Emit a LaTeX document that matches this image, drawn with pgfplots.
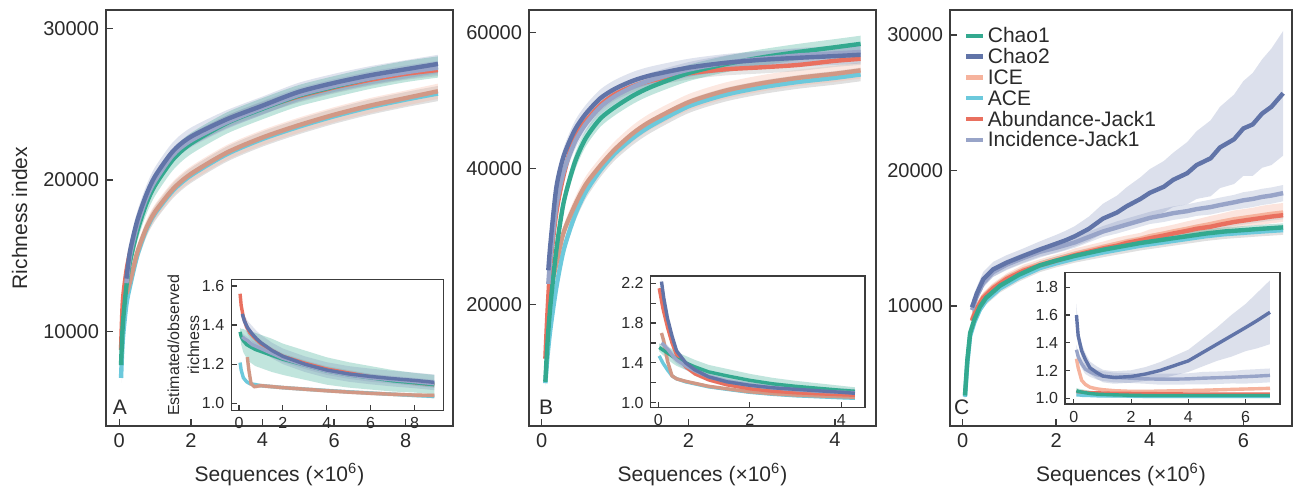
\documentclass[border=0pt]{standalone}
\usepackage{fontspec}
\setmainfont{Liberation Sans}
\usepackage{pgfplots}
\usepackage{pgfplotstable}
\pgfplotsset{compat=1.18}
\usepgfplotslibrary{fillbetween}

\definecolor{cA}{HTML}{33A98F}% Chao1
\definecolor{cB}{HTML}{6174A8}% Chao2
\definecolor{cC}{HTML}{F6B39D}% ICE
\definecolor{cD}{HTML}{6CC9DC}% ACE
\definecolor{cE}{HTML}{E9705F}% Abundance-Jack1
\definecolor{cF}{HTML}{98A4C8}% Incidence-Jack1
\definecolor{axc}{HTML}{3C3C3C}
\definecolor{txt}{HTML}{2A2A2A}

% band: table, column, half-width column, fill style, path name
\newcommand{\band}[5]{%
  \addplot[draw=none, forget plot, name path=#5u] table[x=x, y expr=\thisrow{#2}+\thisrow{#3}] {#1};
  \addplot[draw=none, forget plot, name path=#5l] table[x=x, y expr=\thisrow{#2}-\thisrow{#3}] {#1};
  \addplot[#4, draw=none, forget plot] fill between[of=#5u and #5l];}
\newcommand{\crv}[4]{\addplot[#3, line width=#4, forget plot] table[x=x, y=#2] {#1};}

\pgfplotsset{
  panel/.style={scale only axis, width=173.5pt, height=208pt,
    axis line style={draw=axc, line width=0.75pt}, tick style={draw=axc, line width=0.75pt},
    tick align=inside, major tick length=3.4pt, xtick pos=lower, ytick pos=left,
    tick label style={font=\fontsize{10}{12}\selectfont, text=txt},
    /pgf/number format/assume math mode=true, /pgf/number format/1000 sep={}, scaled ticks=false,
    xlabel={Sequences (×10\textsuperscript{6})},
    every axis x label/.style={at={(axis description cs:0.5,0)}, anchor=center, yshift=-24.5pt,
      font=\fontsize{10.5}{12}\selectfont, text=txt}},
  inset/.style={scale only axis, axis background/.style={fill=white},
    axis line style={draw=axc, line width=0.6pt}, tick style={draw=axc, line width=0.6pt},
    tick align=inside, major tick length=2.6pt, minor tick length=2.6pt, xtick pos=lower, ytick pos=left,
    tick label style={font=\fontsize{8}{9}\selectfont, text=txt},
    /pgf/number format/assume math mode=true,
    yticklabel style={/pgf/number format/.cd, fixed, fixed zerofill, precision=1}},
  rounded/.style={every axis plot/.append style={smooth, tension=0.45}},
}

% ---------- panel A ----------
\pgfplotstableread{
x c1 c1e ace acee aj aje
0.05 7800 300 6950 300 8800 300
0.1 10500 400 9500 400 12000 400
0.2 13000 500 11800 450 14000 400
0.3 14600 600 13000 500 15200 400
0.5 16600 650 15000 500 17100 400
0.75 18400 700 16700 500 18800 400
1 19650 700 17800 500 20000 400
1.5 21350 700 19300 500 21650 400
2 22400 700 20300 500 22600 400
3 23750 700 21700 500 23850 400
4 24700 700 22700 500 24750 400
5 25550 700 23500 500 25500 400
6 26150 700 24200 500 26100 400
7 26700 700 24800 500 26600 400
8 27150 700 25300 500 27000 400
8.9 27450 700 25700 500 27250 400
}\tAe
\pgfplotstableread{
x c2 c2e ij ije ice icee
0.2 13500 500 13200 400 12500 400
0.3 15300 550 15000 450 13300 450
0.5 17300 600 17000 450 15200 500
0.75 19000 600 18750 450 16800 500
1 20250 600 19950 450 17900 500
1.5 21900 600 21650 450 19400 500
2 22850 600 22600 450 20400 500
3 24000 600 23800 450 21800 500
4 24900 600 24750 450 22800 500
5 25800 600 25600 450 23600 500
6 26400 600 26200 450 24300 500
7 26900 600 26700 450 24900 500
8 27300 600 27100 450 25400 500
8.9 27650 600 27400 450 25850 500
}\tAl
\pgfplotstableread{
x c1 c1e ace acee aj aje
0.05 1.365 0.02 1.208 0.01 1.56 0.015
0.1 1.34 0.04 1.17 0.01 1.50 0.015
0.2 1.32 0.06 1.13 0.01 1.44 0.015
0.35 1.30 0.07 1.11 0.01 1.39 0.015
0.5 1.29 0.08 1.10 0.01 1.36 0.015
0.75 1.275 0.085 1.095 0.01 1.33 0.015
1 1.265 0.085 1.09 0.01 1.305 0.015
1.5 1.245 0.085 1.085 0.01 1.27 0.015
2 1.225 0.08 1.08 0.01 1.24 0.015
3 1.195 0.075 1.072 0.01 1.205 0.015
4 1.165 0.07 1.065 0.01 1.175 0.015
5 1.145 0.065 1.058 0.01 1.155 0.015
6 1.13 0.06 1.052 0.01 1.135 0.015
7 1.115 0.055 1.046 0.01 1.12 0.015
8 1.105 0.05 1.04 0.01 1.105 0.015
8.9 1.095 0.05 1.035 0.01 1.095 0.015
}\tAie
\pgfplotstableread{
x c2 c2e ij ije
0.15 1.457 0.03 1.34 0.02
0.25 1.42 0.03 1.33 0.02
0.4 1.385 0.035 1.32 0.02
0.6 1.355 0.04 1.30 0.02
0.8 1.33 0.04 1.29 0.02
1 1.31 0.04 1.28 0.02
1.5 1.27 0.04 1.255 0.02
2 1.24 0.04 1.23 0.02
3 1.20 0.04 1.195 0.02
4 1.17 0.04 1.165 0.02
5 1.15 0.04 1.145 0.02
6 1.137 0.04 1.13 0.02
7 1.126 0.04 1.12 0.02
8 1.117 0.04 1.11 0.02
8.9 1.107 0.04 1.10 0.02
}\tAil
\pgfplotstableread{
x ice icee
0.38 1.236 0.01
0.45 1.17 0.01
0.55 1.10 0.01
0.7 1.085 0.01
1 1.09 0.01
1.5 1.085 0.01
2 1.08 0.01
3 1.072 0.01
4 1.064 0.01
5 1.057 0.01
6 1.051 0.01
7 1.046 0.01
8 1.042 0.01
8.9 1.04 0.01
}\tAii

% ---------- panel B ----------
\pgfplotstableread{
x c1 c1e ace acee aj aje
0.05 8600 400 8400 400 12000 400
0.08 14500 600 12500 500 19000 600
0.12 20000 800 16500 600 26000 700
0.2 28000 1000 22500 800 33500 800
0.3 35000 1100 28000 900 39000 900
0.45 40800 1200 33000 1000 44800 900
0.6 44400 1200 36500 1000 46900 900
0.8 47300 1200 39700 1000 49300 900
1 49000 1200 42200 1000 50900 900
1.25 50700 1200 44500 1000 52100 900
1.5 52000 1200 46300 1000 52900 900
2 54000 1200 49100 1000 53950 900
2.5 55300 1200 50800 1000 54550 900
3 56300 1200 51900 1000 54850 900
3.5 57100 1200 52700 1000 55200 900
4 57800 1200 53300 1000 55800 900
4.35 58300 1200 53800 1000 56100 900
}\tBe
\pgfplotstableread{
x c2 c2e ij ije ice icee
0.09 25000 800 23000 800 20000 600
0.12 29000 900 27000 900 22000 700
0.2 37200 1100 34500 1000 26000 900
0.3 41800 1200 39500 1100 30600 1000
0.45 45600 1300 43800 1100 34500 1100
0.6 48000 1300 46500 1100 37600 1200
0.8 50300 1300 49000 1100 40400 1200
1 51700 1300 50600 1100 42800 1200
1.25 52900 1300 52000 1100 45200 1200
1.5 53700 1300 53000 1100 47000 1200
2 54800 1300 54500 1100 49700 1200
2.5 55500 1300 55500 1100 51400 1200
3 55950 1300 56100 1100 52500 1200
3.5 56250 1300 56600 1100 53300 1200
4 56500 1300 56900 1100 53900 1200
4.35 56700 1300 57100 1100 54400 1200
}\tBl
\pgfplotstableread{
x c1 c1e ace acee aj aje
0.02 1.555 0.04 1.47 0.015 2.15 0.02
0.1 1.53 0.05 1.40 0.015 1.95 0.02
0.2 1.50 0.06 1.33 0.015 1.76 0.02
0.3 1.47 0.07 1.27 0.015 1.60 0.02
0.4 1.44 0.07 1.24 0.015 1.48 0.02
0.6 1.40 0.07 1.21 0.015 1.36 0.02
0.8 1.36 0.07 1.19 0.015 1.29 0.02
1.1 1.31 0.07 1.16 0.015 1.23 0.02
1.5 1.27 0.07 1.135 0.015 1.18 0.02
2 1.225 0.065 1.105 0.015 1.14 0.02
2.5 1.19 0.06 1.085 0.015 1.115 0.02
3 1.165 0.055 1.07 0.015 1.10 0.02
3.5 1.145 0.05 1.06 0.015 1.09 0.02
4 1.125 0.045 1.05 0.015 1.08 0.02
4.3 1.115 0.04 1.045 0.015 1.075 0.02
}\tBie
\pgfplotstableread{
x c2 c2e ij ije ice icee
0.07 2.217 0.03 1.60 0.04 1.70 0.015
0.12 2.05 0.03 1.58 0.04 1.62 0.015
0.2 1.85 0.03 1.54 0.04 1.42 0.015
0.3 1.67 0.03 1.48 0.04 1.27 0.015
0.4 1.52 0.03 1.43 0.04 1.24 0.015
0.6 1.40 0.03 1.37 0.04 1.215 0.015
0.8 1.33 0.03 1.32 0.04 1.195 0.015
1.1 1.26 0.03 1.26 0.04 1.165 0.015
1.5 1.21 0.03 1.215 0.04 1.14 0.015
2 1.175 0.03 1.175 0.04 1.11 0.015
2.5 1.15 0.03 1.15 0.04 1.09 0.015
3 1.135 0.03 1.13 0.04 1.077 0.015
3.5 1.12 0.03 1.115 0.04 1.068 0.015
4 1.105 0.03 1.105 0.04 1.06 0.015
4.3 1.095 0.03 1.10 0.04 1.055 0.015
}\tBil

% ---------- panel C ----------
\pgfplotstableread{
x c1 c1e ace acee
0.05 3400 200 3300 200
0.1 6000 250 5800 250
0.16 8000 300 7800 300
0.25 9000 300 8800 300
0.37 9950 300 9750 300
0.5 10600 300 10400 300
0.8 11500 300 11300 300
1.2 12300 300 12100 300
1.65 13000 300 12800 300
2 13350 300 13150 300
2.4 13700 300 13500 300
3 14150 300 13950 350
3.4 14400 300 14200 350
3.8 14650 300 14450 350
4.2 14850 300 14650 350
4.5 15000 300 14800 350
5 15250 300 15050 350
5.2 15350 300 15150 350
5.6 15500 300 15300 350
6 15600 300 15400 350
6.4 15700 300 15500 350
6.85 15800 300 15600 350
}\tCe
\pgfplotstableread{
x c2 c2e ij ije ice icee aj aje
0.2 9900 500 9700 350 9000 300 8900 300
0.3 10900 500 10700 350 9900 300 9800 300
0.44 11970 550 11700 350 10700 300 10600 300
0.65 12700 550 12500 350 11400 300 11300 300
0.94 13200 550 13050 350 12100 300 12000 300
1.3 13700 550 13550 350 12700 350 12600 300
1.65 14170 600 14000 350 13100 350 13000 300
2 14600 650 14300 400 13450 350 13350 300
2.2 14850 700 14500 400 13650 350 13550 300
2.4 15150 750 14700 400 13850 400 13750 300
2.7 15700 900 15100 400 14100 400 14000 300
3 16450 1100 15500 400 14350 400 14250 300
3.3 16900 1250 15800 450 14600 450 14450 300
3.5 17350 1400 16000 450 14750 450 14650 300
3.8 17900 1600 16300 450 14950 450 14850 300
4 18350 1750 16500 450 15150 500 15000 300
4.3 18800 1900 16700 500 15350 500 15200 300
4.5 19310 2000 16850 500 15500 500 15350 300
4.8 19800 2300 17000 500 15700 550 15550 300
5 20400 2500 17150 500 15850 550 15700 300
5.3 20900 2800 17300 550 16050 600 15850 300
5.5 21700 3000 17450 550 16200 600 16000 300
5.8 22300 3300 17650 550 16400 650 16200 300
6 23100 3500 17800 600 16500 650 16300 300
6.2 23400 3800 17900 600 16600 650 16400 300
6.4 24200 4000 18050 600 16700 700 16500 300
6.6 24700 4300 18150 600 16800 700 16600 300
6.85 25700 4600 18330 600 16900 700 16700 300
}\tCl
\pgfplotstableread{
x c2 c2e ij ije ice icee aj aje c1 c1e ace acee
0.09 1.60 0.08 1.35 0.035 1.285 0.01 1.05 0.008 1.055 0.02 1.025 0.008
0.15 1.45 0.06 1.30 0.035 1.22 0.01 1.048 0.008 1.05 0.02 1.025 0.008
0.27 1.343 0.05 1.25 0.035 1.13 0.01 1.045 0.008 1.045 0.02 1.022 0.008
0.4 1.28 0.045 1.21 0.035 1.10 0.01 1.043 0.008 1.04 0.02 1.02 0.008
0.56 1.22 0.045 1.19 0.035 1.08 0.01 1.04 0.008 1.035 0.02 1.02 0.008
0.8 1.185 0.045 1.17 0.035 1.068 0.01 1.04 0.008 1.03 0.02 1.018 0.008
1.02 1.16 0.045 1.16 0.035 1.062 0.01 1.038 0.008 1.028 0.02 1.018 0.008
1.4 1.15 0.045 1.15 0.035 1.055 0.01 1.036 0.008 1.025 0.02 1.017 0.008
2 1.157 0.045 1.145 0.035 1.05 0.01 1.035 0.008 1.022 0.02 1.016 0.008
2.5 1.175 0.05 1.14 0.035 1.05 0.01 1.034 0.008 1.02 0.02 1.016 0.008
3 1.20 0.06 1.138 0.04 1.052 0.01 1.033 0.008 1.02 0.02 1.015 0.008
3.5 1.235 0.07 1.138 0.04 1.054 0.01 1.032 0.008 1.02 0.02 1.015 0.008
4 1.27 0.08 1.14 0.04 1.056 0.01 1.031 0.008 1.02 0.02 1.015 0.008
4.5 1.33 0.10 1.145 0.045 1.058 0.01 1.03 0.008 1.02 0.02 1.015 0.008
5 1.39 0.12 1.148 0.045 1.061 0.01 1.03 0.008 1.02 0.02 1.015 0.008
5.5 1.45 0.15 1.152 0.045 1.064 0.01 1.03 0.008 1.02 0.02 1.015 0.008
6 1.51 0.17 1.156 0.05 1.067 0.01 1.03 0.008 1.02 0.02 1.015 0.008
6.4 1.56 0.20 1.16 0.05 1.069 0.01 1.03 0.008 1.02 0.02 1.015 0.008
6.85 1.62 0.23 1.165 0.05 1.072 0.01 1.03 0.008 1.02 0.02 1.015 0.008
}\tCi

\begin{document}
\begin{tikzpicture}

% ===== A =====
\begin{axis}[panel, rounded, at={(53pt,-213pt)}, anchor=south west,
  xmin=-0.37, xmax=9.32, ymin=3784, ymax=31206,
  xtick={0,2,4,6,8}, ytick={10000,20000,30000},
  ylabel={Richness index},
  every axis y label/.style={at={(axis description cs:-0.249,0.5)}, rotate=90, anchor=center,
    font=\fontsize{10.5}{12}\selectfont, text=txt}]
\band{\tAe}{ace}{acee}{fill=gray!45, fill opacity=0.55}{aa}
\band{\tAl}{ice}{icee}{fill=cC, fill opacity=0.3}{ab}
\band{\tAe}{aj}{aje}{fill=gray!50, fill opacity=0.4}{ac}
\band{\tAe}{c1}{c1e}{fill=cA, fill opacity=0.3}{ad}
\band{\tAl}{ij}{ije}{fill=cF, fill opacity=0.3}{ae}
\band{\tAl}{c2}{c2e}{fill=cB, fill opacity=0.2}{af}
\crv{\tAe}{ace}{cD}{2.2pt}
\crv{\tAl}{ice}{cC!85!black}{2.2pt}
\crv{\tAe}{aj}{cE}{2.2pt}
\crv{\tAe}{c1}{cA}{2.2pt}
\crv{\tAl}{ij}{cF}{2.2pt}
\crv{\tAl}{c2}{cB}{2.2pt}
\node[font=\fontsize{10.5}{12}\selectfont, text=txt] at (axis description cs:0.04,0.046) {A};
\end{axis}

\begin{axis}[inset, at={(115.65pt,-205.35pt)}, anchor=south west, width=106pt, height=65.7pt,
  xmin=-0.35, xmax=9.31, ymin=0.962, ymax=1.634,
  xtick={0,2,4,6,8}, ytick={1.0,1.2,1.4,1.6},
  ylabel={Estimated/observed\\richness},
  every axis y label/.style={at={(axis description cs:-0.226,0.5)}, rotate=90, anchor=center, align=center,
    font=\fontsize{8}{10}\selectfont, text=txt}]
\band{\tAie}{ace}{acee}{fill=gray!45, fill opacity=0.5}{ia}
\band{\tAii}{ice}{icee}{fill=cC, fill opacity=0.3}{ib}
\band{\tAie}{aj}{aje}{fill=gray!50, fill opacity=0.3}{ic}
\band{\tAie}{c1}{c1e}{fill=cA, fill opacity=0.3}{id}
\band{\tAil}{ij}{ije}{fill=cF, fill opacity=0.3}{ie}
\band{\tAil}{c2}{c2e}{fill=cB, fill opacity=0.2}{ig}
\crv{\tAie}{ace}{cD}{1.7pt}
\crv{\tAii}{ice}{cC!85!black}{1.7pt}
\crv{\tAie}{aj}{cE}{1.7pt}
\crv{\tAie}{c1}{cA}{1.7pt}
\crv{\tAil}{ij}{cF}{1.7pt}
\crv{\tAil}{c2}{cB}{1.7pt}
\end{axis}

% ===== B =====
\begin{axis}[panel, rounded, at={(264.5pt,-213pt)}, anchor=south west,
  xmin=-0.173, xmax=4.56, ymin=2103, ymax=63280,
  xtick={0,2,4}, ytick={20000,40000,60000}]
\band{\tBe}{ace}{acee}{fill=gray!45, fill opacity=0.55}{ba}
\band{\tBl}{ice}{icee}{fill=cC, fill opacity=0.3}{bb}
\band{\tBe}{aj}{aje}{fill=gray!50, fill opacity=0.4}{bc}
\band{\tBe}{c1}{c1e}{fill=cA, fill opacity=0.3}{bd}
\band{\tBl}{ij}{ije}{fill=cF, fill opacity=0.3}{be}
\band{\tBl}{c2}{c2e}{fill=cB, fill opacity=0.2}{bf}
\crv{\tBe}{ace}{cD}{2.2pt}
\crv{\tBl}{ice}{cC!85!black}{2.2pt}
\crv{\tBe}{aj}{cE}{2.2pt}
\crv{\tBe}{c1}{cA}{2.2pt}
\crv{\tBl}{ij}{cF}{2.2pt}
\crv{\tBl}{c2}{cB}{2.2pt}
\node[font=\fontsize{10.5}{12}\selectfont, text=txt] at (axis description cs:0.049,0.046) {B};
\end{axis}

\begin{axis}[inset, at={(325.35pt,-203.65pt)}, anchor=south west, width=107.15pt, height=65.65pt,
  xmin=-0.166, xmax=4.52, ymin=0.954, ymax=2.273,
  xtick={0,2,4}, ytick={1.0,1.4,1.8,2.2}, minor ytick={1.2,1.6,2.0}]
\band{\tBie}{ace}{acee}{fill=gray!45, fill opacity=0.5}{ja}
\band{\tBil}{ice}{icee}{fill=cC, fill opacity=0.3}{jb}
\band{\tBie}{aj}{aje}{fill=gray!50, fill opacity=0.3}{jc}
\band{\tBie}{c1}{c1e}{fill=cA, fill opacity=0.3}{jd}
\band{\tBil}{ij}{ije}{fill=cF, fill opacity=0.3}{je}
\band{\tBil}{c2}{c2e}{fill=cB, fill opacity=0.2}{jf}
\crv{\tBie}{ace}{cD}{1.7pt}
\crv{\tBil}{ice}{cC!85!black}{1.7pt}
\crv{\tBie}{aj}{cE}{1.7pt}
\crv{\tBie}{c1}{cA}{1.7pt}
\crv{\tBil}{ij}{cF}{1.7pt}
\crv{\tBil}{c2}{cB}{1.7pt}
\end{axis}

% ===== C =====
\begin{axis}[panel, at={(475pt,-213pt)}, anchor=south west, width=171pt,
  xmin=-0.27, xmax=7.04, ymin=1144, ymax=31845,
  xtick={0,2,4,6}, ytick={10000,20000,30000},
  legend style={at={(axis description cs:0.04,0.964)}, anchor=north west, draw=none, fill=none,
    inner sep=0pt, font=\fontsize{10.5}{10.5}\selectfont, text=txt,
    nodes={inner sep=1.2pt, text height=7.6pt, text depth=0.4pt}},
  legend cell align=left,
  legend image code/.code={\draw[#1] (0pt,0pt) -- (8.5pt,0pt);}]
\addlegendimage{cA, line width=2.2pt}\addlegendentry{Chao1}
\addlegendimage{cB, line width=2.2pt}\addlegendentry{Chao2}
\addlegendimage{cC, line width=2.2pt}\addlegendentry{ICE}
\addlegendimage{cD, line width=2.2pt}\addlegendentry{ACE}
\addlegendimage{cE, line width=2.2pt}\addlegendentry{Abundance-Jack1}
\addlegendimage{cF, line width=2.2pt}\addlegendentry{Incidence-Jack1}
\band{\tCe}{ace}{acee}{fill=gray!45, fill opacity=0.55}{ca}
\band{\tCl}{ice}{icee}{fill=cC, fill opacity=0.35}{cb}
\band{\tCl}{aj}{aje}{fill=gray!50, fill opacity=0.4}{cc}
\band{\tCe}{c1}{c1e}{fill=cA, fill opacity=0.3}{cd}
\band{\tCl}{ij}{ije}{fill=cF, fill opacity=0.3}{ce}
\band{\tCl}{c2}{c2e}{fill=cB, fill opacity=0.22}{cf}
\crv{\tCe}{ace}{cD}{2.2pt}
\crv{\tCl}{ice}{cC}{2.2pt}
\crv{\tCl}{aj}{cE}{2.2pt}
\crv{\tCe}{c1}{cA}{2.2pt}
\crv{\tCl}{ij}{cF}{2.2pt}
\crv{\tCl}{c2}{cB}{2.2pt}
\node[font=\fontsize{10.5}{12}\selectfont, text=txt] at (axis description cs:0.034,0.046) {C};
\end{axis}

\begin{axis}[inset, at={(532.5pt,-202pt)}, anchor=south west, width=107.5pt, height=65.65pt,
  xmin=-0.31, xmax=7.2, ymin=0.959, ymax=1.905,
  xtick={0,2,4,6}, ytick={1.0,1.2,1.4,1.6,1.8}]
\band{\tCi}{ace}{acee}{fill=gray!45, fill opacity=0.5}{ka}
\band{\tCi}{ice}{icee}{fill=cC, fill opacity=0.3}{kb}
\band{\tCi}{aj}{aje}{fill=gray!50, fill opacity=0.3}{kc}
\band{\tCi}{c1}{c1e}{fill=cA, fill opacity=0.3}{kd}
\band{\tCi}{ij}{ije}{fill=cF, fill opacity=0.3}{ke}
\band{\tCi}{c2}{c2e}{fill=cB, fill opacity=0.22}{kf}
\crv{\tCi}{ace}{cD}{1.7pt}
\crv{\tCi}{ice}{cC}{1.7pt}
\crv{\tCi}{aj}{cE}{1.7pt}
\crv{\tCi}{c1}{cA}{1.7pt}
\crv{\tCi}{ij}{cF}{1.7pt}
\crv{\tCi}{c2}{cB}{1.7pt}
\end{axis}

\path (0,0) rectangle (647.5pt,-243.5pt);
\end{tikzpicture}
\end{document}
